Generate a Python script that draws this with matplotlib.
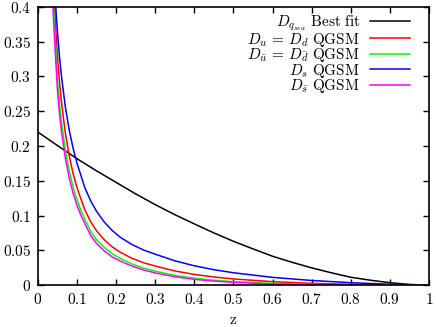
import matplotlib
matplotlib.use("Agg")
from matplotlib import pyplot as plt

plt.rcParams['mathtext.fontset'] = 'cm'
plt.rcParams['font.family'] = 'serif'
plt.rcParams['font.serif'] = ['DejaVu Serif']

# values
z_fit = [0.0, 0.05, 0.1, 0.15, 0.2, 0.25, 0.3, 0.35, 0.4, 0.45, 0.5,
         0.55, 0.6, 0.65, 0.7, 0.75, 0.8, 0.85, 0.9, 0.95, 1.0]
d_fit = [0.22, 0.2006, 0.1817, 0.1642, 0.1477, 0.1311, 0.1157, 0.1013, 0.0880, 0.0750, 0.0630,
         0.0521, 0.0415, 0.0328, 0.0248, 0.0178, 0.0113, 0.0071, 0.0035, 0.0010, 0.0]

z_q = [0.035, 0.04, 0.045, 0.05, 0.055, 0.06, 0.07, 0.08, 0.09, 0.10, 0.11, 0.12,
       0.135, 0.15, 0.17, 0.19, 0.21, 0.24, 0.27, 0.3, 0.35, 0.4, 0.45, 0.5,
       0.6, 0.7, 0.8, 0.9, 0.95, 1.0]
d_u = [0.500, 0.428, 0.372, 0.329, 0.293, 0.264, 0.219, 0.186, 0.160, 0.140, 0.1237, 0.108,
       0.091, 0.078, 0.065, 0.055, 0.0475, 0.0387, 0.0322, 0.0274, 0.0204, 0.0154, 0.0117, 0.0089,
       0.0050, 0.0026, 0.0011, 0.0003, 0.0001, 0.0]
d_ubar = [0.470, 0.400, 0.345, 0.2946, 0.2622, 0.2356, 0.1944, 0.164, 0.1405, 0.1221, 0.1071, 0.0948,
          0.077, 0.065, 0.054, 0.045, 0.0385, 0.0305, 0.0245, 0.020, 0.0141, 0.0100, 0.0071, 0.0050,
          0.0024, 0.0010, 0.0003, 0.0001, 0.0, 0.0]
d_s = [0.520, 0.456, 0.4045, 0.3632, 0.3295, 0.3014, 0.2565, 0.2229, 0.1964, 0.1751, 0.1575, 0.140,
       0.121, 0.106, 0.0905, 0.0785, 0.069, 0.0585, 0.0505, 0.0445, 0.0350, 0.0278, 0.0222, 0.0178,
       0.0112, 0.0067, 0.0035, 0.0013, 0.0005, 0.0]
d_sbar = [0.447, 0.380, 0.328, 0.280, 0.248, 0.222, 0.183, 0.154, 0.132, 0.1146, 0.1004, 0.0885,
          0.0712, 0.0598, 0.0491, 0.0405, 0.0347, 0.0275, 0.0218, 0.0176, 0.0121, 0.0083, 0.0058, 0.0040,
          0.0018, 0.0007, 0.0002, 0.0, 0.0, 0.0]

labels = [r'$D_{q_{sea}}\ \mathrm{Best\ fit}$',
          r'$D_u\,=\,D_d\ \mathrm{QGSM}$',
          r'$D_{\bar{u}}\,=\,D_{\bar{d}}\ \mathrm{QGSM}$',
          r'$D_s\ \mathrm{QGSM}$',
          r'$D_{\bar{s}}\ \mathrm{QGSM}$']
colors = ['black', '#ff0000', '#00ff00', '#0000ff', '#ff00ff']

xticks = [0, 0.1, 0.2, 0.3, 0.4, 0.5, 0.6, 0.7, 0.8, 0.9, 1]
xlabels = ['0', '0.1', '0.2', '0.3', '0.4', '0.5', '0.6', '0.7', '0.8', '0.9', '1']
yticks = [0, 0.05, 0.1, 0.15, 0.2, 0.25, 0.3, 0.35, 0.4]
ylabels = ['0', '0.05', '0.1', '0.15', '0.2', '0.25', '0.3', '0.35', '0.4']

fig = plt.figure(figsize=(4.36, 3.27), dpi=100)
ax = fig.add_axes([0.087, 0.128, 0.897, 0.851])

ax.plot(z_fit, d_fit, color=colors[0], lw=1.1, label=labels[0])
for ys, c, lab in zip([d_u, d_ubar, d_s, d_sbar], colors[1:], labels[1:]):
	ax.plot(z_q, ys, color=c, lw=1.1, label=lab)

ax.set_xlim(0, 1)
ax.set_ylim(0, 0.4)
ax.set_xticks(xticks)
ax.set_xticklabels(['$' + s + '$' for s in xlabels])
ax.set_yticks(yticks)
ax.set_yticklabels(['$' + s + '$' for s in ylabels])
ax.tick_params(direction='in', length=4, width=1, top=True, right=True,
               labelsize=11, pad=5)
for sp in ax.spines.values():
	sp.set_linewidth(1.2)
ax.set_xlabel(r'$\mathrm{z}$', fontsize=11, labelpad=4)

ax.legend(loc='upper right', bbox_to_anchor=(0.951, 0.976), frameon=False,
          markerfirst=False, fontsize=11, handlelength=2.6, handletextpad=0.65,
          labelspacing=-0.16, borderaxespad=0, borderpad=0)

fig.savefig('out.png', dpi=100)
